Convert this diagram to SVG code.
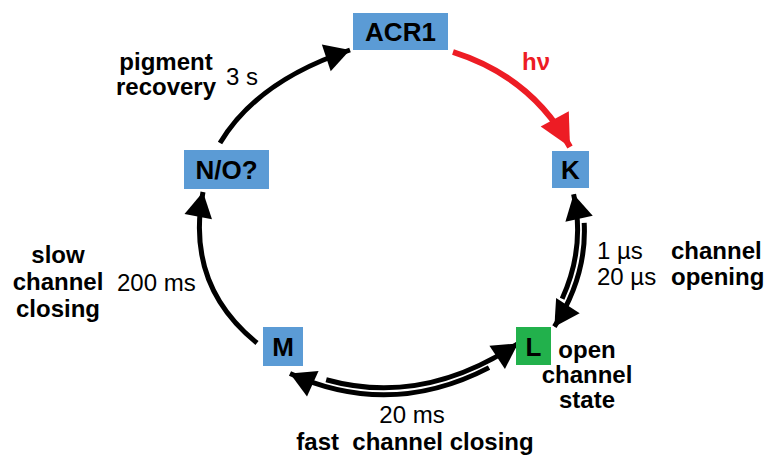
<svg xmlns="http://www.w3.org/2000/svg" width="766" height="458" viewBox="0 0 766 458">
<style>
  .node { fill: #5B9BD5; }
  .open { fill: #22B14C; }
  .nl { font-family: "Liberation Sans", Arial, sans-serif; font-weight: bold; font-size: 26px; fill: #000; text-anchor: middle; }
  .b { font-family: "Liberation Sans", Arial, sans-serif; font-weight: bold; font-size: 24px; fill: #000; }
  .r { font-family: "Liberation Sans", Arial, sans-serif; font-size: 24px; fill: #000; }
  .mid { text-anchor: middle; }
  .arr { fill: none; stroke: #000; stroke-width: 5; marker-end: url(#ah); }
  .red { fill: none; stroke: #ED1C24; stroke-width: 6; marker-end: url(#ahr); }
</style>
<defs>
  <marker id="ah" markerUnits="userSpaceOnUse" viewBox="-26 -15 27 30" refX="0" refY="0" markerWidth="27" markerHeight="30" orient="auto" overflow="visible">
    <path d="M0,0 L-25,-14 L-25,14 Z" fill="#000"/>
  </marker>
  <marker id="ahr" markerUnits="userSpaceOnUse" viewBox="-33 -17 34 34" refX="0" refY="0" markerWidth="34" markerHeight="34" orient="auto" overflow="visible">
    <path d="M0,0 L-32,-16 L-32,16 Z" fill="#ED1C24"/>
  </marker>
</defs>

<g id="connectors">
  <path class="red" d="M453,52 Q532,77 570,147"/>
  <path class="arr" d="M220,143 Q257,81 350,50"/>
  <path class="arr" d="M257,343 Q185,285 203,192"/>
  <!-- K <-> L double arrow -->
  <path class="arr" pathLength="100" stroke-dasharray="0 22 78 100" d="M547.6,325.3 Q588.6,261.3 573.6,194.3"/>
  <path class="arr" pathLength="100" stroke-dasharray="0 20 80 100" d="M580.4,195.7 Q595.4,262.7 554.4,326.7"/>
  <!-- M <-> L double arrow -->
  <path class="arr" pathLength="100" stroke-dasharray="0 16 84 100" d="M290,366.5 Q405,418.5 518,343.5"/>
  <path class="arr" pathLength="100" stroke-dasharray="0 14 86 100" d="M518,350.5 Q405,425.5 290,373.5"/>
</g>

<g id="ACR1">
  <rect class="node" x="353" y="13" width="95" height="37"/>
  <text class="nl" x="400.5" y="41">ACR1</text>
</g>
<g id="K">
  <rect class="node" x="552" y="151" width="37" height="37"/>
  <text class="nl" x="570.5" y="179">K</text>
</g>
<g id="L">
  <rect class="open" x="516" y="327" width="35" height="38"/>
  <text class="nl" x="533.5" y="355.5">L</text>
</g>
<g id="M">
  <rect class="node" x="263" y="327" width="40" height="39"/>
  <text class="nl" x="283" y="356">M</text>
</g>
<g id="NO">
  <rect class="node" x="184" y="150" width="85" height="39"/>
  <text class="nl" x="226.5" y="179">N/O?</text>
</g>

<g id="labels">
  <text class="b mid" x="166" y="70" font-size="23">pigment</text>
  <text class="b mid" x="166" y="95" font-size="23">recovery</text>
  <text class="r" x="226" y="85">3 s</text>
  <text class="b" x="522" y="70" style="fill:#ED1C24" font-size="23">hν</text>
  <text class="r" x="597" y="259">1 µs</text>
  <text class="r" x="597" y="285">20 µs</text>
  <text class="b" x="671" y="259">channel</text>
  <text class="b" x="671" y="285">opening</text>
  <text class="b mid" x="58" y="263">slow</text>
  <text class="b mid" x="58" y="290">channel</text>
  <text class="b mid" x="58" y="317">closing</text>
  <text class="r" x="117" y="291">200 ms</text>
  <text class="b mid" x="587" y="358">open</text>
  <text class="b mid" x="587" y="383">channel</text>
  <text class="b mid" x="587" y="408">state</text>
  <text class="r mid" x="412" y="423">20 ms</text>
  <text class="b mid" x="415" y="450" xml:space="preserve">fast  channel closing</text>
</g>
</svg>
